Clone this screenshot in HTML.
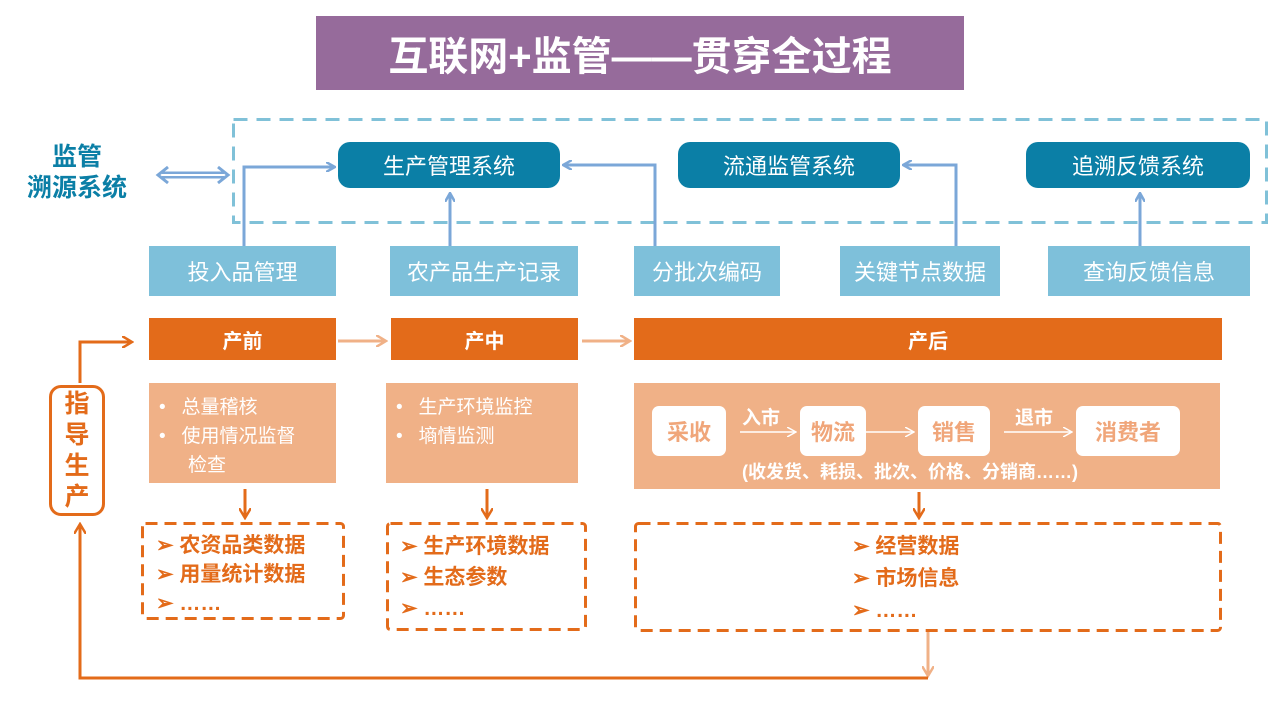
<!DOCTYPE html>
<html><head><meta charset="utf-8"><style>
body{margin:0;width:1280px;height:720px;position:relative;overflow:hidden;background:#fff;font-family:"Liberation Sans","Noto Sans CJK SC",sans-serif}
.a{position:absolute;box-sizing:border-box;display:flex;align-items:center;justify-content:center}
.pill{background:#0b7fa6;color:#fff;border-radius:12px;font-size:22px;height:46px;top:142px}
.lb{background:#7ec0da;color:#fff;font-size:22px;top:246px;height:50px}
.ob{background:#e36b1a;color:#fff;font-weight:bold;font-size:20px;top:318px;height:42px}
.pe{background:#f0b187;color:#fff;font-size:19px}
.dash{color:#e36b1a;font-weight:bold;font-size:21px;flex-direction:column;align-items:flex-start;justify-content:flex-start}
.wb{background:#fff;color:#f0a67a;font-weight:bold;font-size:22px;border-radius:7px;top:406px;height:50px}
</style></head><body>
<div class="a" style="left:316px;top:16px;width:648px;height:74px;background:#966b9b;color:#fff;font-size:40px;font-weight:bold">互联网+监管——贯穿全过程</div>
<div class="a" style="left:10px;top:140px;width:134px;height:66px;color:#0b7fa6;font-weight:bold;font-size:25px;line-height:31px;text-align:center;flex-direction:column">监管<br>溯源系统</div>
<div class="a pill" style="left:338px;width:222px">生产管理系统</div>
<div class="a pill" style="left:678px;width:222px">流通监管系统</div>
<div class="a pill" style="left:1026px;width:224px">追溯反馈系统</div>
<div class="a lb" style="left:149px;width:187px">投入品管理</div>
<div class="a lb" style="left:390px;width:188px">农产品生产记录</div>
<div class="a lb" style="left:634px;width:146px">分批次编码</div>
<div class="a lb" style="left:840px;width:160px">关键节点数据</div>
<div class="a lb" style="left:1048px;width:202px">查询反馈信息</div>
<div class="a ob" style="left:149px;width:187px">产前</div>
<div class="a ob" style="left:391px;width:187px">产中</div>
<div class="a ob" style="left:634px;width:588px">产后</div>
<div class="a pe" style="left:149px;top:383px;width:187px;height:100px;display:block;padding:10px 0 0 10px;line-height:29px">
<div>•&nbsp;&nbsp;&nbsp;总量稽核</div><div>•&nbsp;&nbsp;&nbsp;使用情况监督</div><div style="padding-left:29px">检查</div></div>
<div class="a pe" style="left:386px;top:383px;width:192px;height:100px;display:block;padding:10px 0 0 10px;line-height:29px">
<div>•&nbsp;&nbsp;&nbsp;生产环境监控</div><div>•&nbsp;&nbsp;&nbsp;墒情监测</div></div>
<div class="a pe" style="left:634px;top:383px;width:586px;height:106px"></div>
<div class="a wb" style="left:652px;width:74px">采收</div>
<div class="a wb" style="left:800px;width:66px">物流</div>
<div class="a wb" style="left:918px;width:72px">销售</div>
<div class="a wb" style="left:1076px;width:104px">消费者</div>
<div class="a" style="left:736px;top:404px;width:50px;height:24px;color:#fff;font-weight:bold;font-size:19px">入市</div>
<div class="a" style="left:1006px;top:404px;width:56px;height:24px;color:#fff;font-weight:bold;font-size:19px">退市</div>
<div class="a" style="left:700px;top:458px;width:420px;height:26px;color:#fff;font-weight:bold;font-size:18px">(收发货、耗损、批次、价格、分销商……)</div>
<div class="a dash" style="left:141px;top:522px;width:204px;height:98px;padding:9px 0 0 15px;line-height:29px"><div>➢ 农资品类数据</div><div>➢ 用量统计数据</div><div>➢ ……</div></div>
<div class="a dash" style="left:386px;top:522px;width:201px;height:109px;padding:9px 0 0 14px;line-height:31px"><div>➢ 生产环境数据</div><div>➢ 生态参数</div><div>➢ ……</div></div>
<div class="a dash" style="left:634px;top:522px;width:588px;height:110px;padding:9px 0 0 218px;line-height:32px"><div>➢ 经营数据</div><div>➢ 市场信息</div><div>➢ ……</div></div>
<div class="a" style="left:49px;top:385px;width:56px;height:131px;border:3px solid #e36b1a;border-radius:12px;color:#e36b1a;font-weight:bold;font-size:25px;line-height:31px;text-align:center;flex-direction:column">指<br>导<br>生<br>产</div>
<svg class="a" style="left:0;top:0" width="1280" height="720">
<defs>
<marker id="b" markerWidth="10" markerHeight="10" refX="8" refY="5" orient="auto" markerUnits="userSpaceOnUse"><path d="M0,0 L9,5 L0,10" fill="none" stroke="#7ba7d8" stroke-width="2.5"/></marker>
<marker id="o" markerWidth="12" markerHeight="12" refX="10" refY="6" orient="auto" markerUnits="userSpaceOnUse"><path d="M0,0 L10,6 L0,12" fill="none" stroke="#e36b1a" stroke-width="2.5"/></marker>
<marker id="p" markerWidth="12" markerHeight="12" refX="10" refY="6" orient="auto" markerUnits="userSpaceOnUse"><path d="M0,0 L10,6 L0,12" fill="none" stroke="#f0b187" stroke-width="2.5"/></marker>
<marker id="w" markerWidth="10" markerHeight="10" refX="9" refY="5" orient="auto" markerUnits="userSpaceOnUse"><path d="M0,0 L9,5 L0,10" fill="none" stroke="#fff" stroke-width="1.5"/></marker>
</defs>
<rect x="233.5" y="119.5" width="1033" height="103" fill="none" stroke="#80c1d8" stroke-width="3" stroke-dasharray="14 9"/>
<g fill="none" stroke="#e36b1a" stroke-width="3" stroke-dasharray="12 7">
<rect x="142.5" y="523.5" width="201" height="95" rx="3"/>
<rect x="387.5" y="523.5" width="198" height="106" rx="3"/>
<rect x="635.5" y="523.5" width="585" height="107" rx="3"/>
</g>
<g fill="none" stroke="#7ba7d8" stroke-width="3">
<path d="M244,246 V167 H334" marker-end="url(#b)"/>
<path d="M450,246 V194" marker-end="url(#b)"/>
<path d="M655,246 V165 H564" marker-end="url(#b)"/>
<path d="M956,246 V165 H904" marker-end="url(#b)"/>
<path d="M1140,246 V194" marker-end="url(#b)"/>
<path d="M162,175 H224" stroke-width="7"/>
<path d="M162,175 H224" stroke="#fff" stroke-width="2"/>
<path d="M168,167 L158,175 L168,183 M218,167 L228,175 L218,183" stroke-width="3"/>
</g>
<g fill="none" stroke="#f0b187" stroke-width="3">
<path d="M338,341 H386" marker-end="url(#p)"/>
<path d="M582,341 H630" marker-end="url(#p)"/>
<path d="M928,632 V676" marker-end="url(#p)"/>
</g>
<g fill="none" stroke="#e36b1a" stroke-width="3">
<path d="M928,678 H80 V524" marker-end="url(#o)"/>
<path d="M80,383 V342 H132" marker-end="url(#o)"/>
<path d="M245,489 V518" marker-end="url(#o)"/>
<path d="M487,489 V518" marker-end="url(#o)"/>
<path d="M919,492 V518" marker-end="url(#o)"/>
</g>
<g fill="none" stroke="#fff" stroke-width="1.5">
<path d="M740,432 H796" marker-end="url(#w)"/>
<path d="M866,432 H914" marker-end="url(#w)"/>
<path d="M1004,432 H1072" marker-end="url(#w)"/>
</g>
</svg>
</body></html>
